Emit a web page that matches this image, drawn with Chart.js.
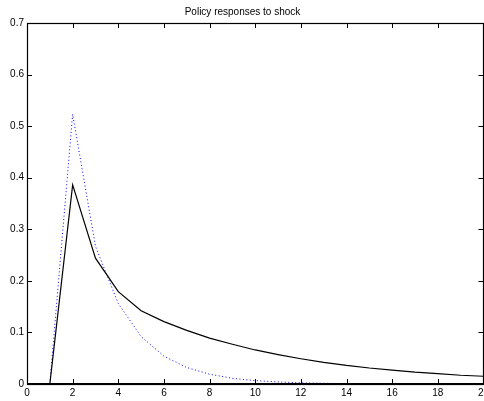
<!DOCTYPE html>
<html>
<head>
<meta charset="utf-8">
<script src="https://cdn.jsdelivr.net/npm/chart.js@4.4.1/dist/chart.umd.min.js"></script>
<style>
  html, body { margin: 0; padding: 0; background: #fff; overflow: hidden; }
  #wrap { width: 484px; height: 401px; overflow: hidden; }
</style>
</head>
<body>
<div id="wrap"><canvas id="chart" width="492" height="401"></canvas></div>
<script>
// periods after the shock
const periods = [1, 2, 3, 4, 5, 6, 7, 8, 9, 10, 11, 12, 13, 14, 15, 16, 17, 18, 19, 20];
// solid black response
const responseSolid = [0, 0.386, 0.244, 0.179, 0.142, 0.121, 0.104, 0.089, 0.077, 0.066,
                       0.057, 0.049, 0.042, 0.036, 0.031, 0.027, 0.023, 0.020, 0.017, 0.015];
// dotted blue response
const responseDotted = [0, 0.523, 0.267, 0.156, 0.092, 0.054, 0.032, 0.019, 0.011, 0.0065,
                        0.004, 0.0023, 0.0014, 0.0008, 0.0005, 0.0003, 0.0002, 0.0001, 0.0001, 0];
const xTicks = [0, 2, 4, 6, 8, 10, 12, 14, 16, 18, 20];
const yTicks = [0, 0.1, 0.2, 0.3, 0.4, 0.5, 0.6, 0.7];

const FONT = 'Liberation Sans, Arial, Helvetica, sans-serif';

// matlab style box with inward ticks on every side
const boxAxes = {
    id: 'boxAxes',
    afterDraw(chart) {
        const { ctx, chartArea: a, scales } = chart;
        const len = 5;
        ctx.save();
        ctx.strokeStyle = '#000';
        ctx.lineWidth = 1;
        xTicks.forEach(v => {
            const x = Math.round(scales.x.getPixelForValue(v)) + 0.5;
            ctx.beginPath();
            ctx.moveTo(x, a.bottom); ctx.lineTo(x, a.bottom - len);
            ctx.moveTo(x, a.top); ctx.lineTo(x, a.top + len);
            ctx.stroke();
        });
        yTicks.forEach(v => {
            const y = Math.round(scales.y.getPixelForValue(v)) + 0.5;
            ctx.beginPath();
            ctx.moveTo(a.left, y); ctx.lineTo(a.left + len, y);
            ctx.moveTo(a.right, y); ctx.lineTo(a.right - len, y);
            ctx.stroke();
        });
        ctx.lineWidth = 1.2;
        ctx.strokeRect(Math.round(a.left) + 0.5, Math.round(a.top) + 0.5,
                       Math.round(a.right - a.left), Math.round(a.bottom - a.top));
        ctx.lineWidth = 2;
        ctx.beginPath();
        ctx.moveTo(a.left, Math.round(a.bottom));
        ctx.lineTo(a.right, Math.round(a.bottom));
        ctx.stroke();
        ctx.restore();
    }
};

const ctx = document.getElementById('chart').getContext('2d');
new Chart(ctx, {
    type: 'line',
    data: {
        datasets: [{
            label: 'solid',
            data: periods.map((p, i) => ({ x: p, y: responseSolid[i] })),
            borderColor: '#000',
            borderWidth: 1.2,
            pointRadius: 0,
            tension: 0,
            fill: false
        }, {
            label: 'dotted',
            data: periods.map((p, i) => ({ x: p, y: responseDotted[i] })),
            borderColor: '#0000ff',
            borderWidth: 1,
            borderDash: [1, 2.5],
            pointRadius: 0,
            tension: 0,
            fill: false
        }]
    },
    options: {
        responsive: false,
        animation: false,
        layout: { padding: { left: 0, right: 7, top: 0, bottom: 0 } },
        plugins: {
            legend: { display: false },
            tooltip: { enabled: false },
            title: {
                display: true,
                text: 'Policy responses to shock',
                color: '#000',
                font: { family: FONT, size: 10, weight: 'normal' },
                padding: { top: 6, bottom: 5 }
            }
        },
        scales: {
            x: {
                type: 'linear',
                min: 0,
                max: 20,
                afterBuildTicks: s => { s.ticks = xTicks.map(v => ({ value: v })); },
                afterFit: s => { s.height = 17; },
                grid: { display: false, drawTicks: false },
                border: { display: false },
                ticks: {
                    color: '#000',
                    padding: 3,
                    maxRotation: 0,
                    autoSkip: false,
                    font: { family: FONT, size: 10 }
                }
            },
            y: {
                min: 0,
                max: 0.7,
                afterBuildTicks: s => { s.ticks = yTicks.map(v => ({ value: v })); },
                afterFit: s => { s.width = 27; },
                grid: { display: false, drawTicks: false },
                border: { display: false },
                ticks: {
                    color: '#000',
                    padding: 3,
                    autoSkip: false,
                    font: { family: FONT, size: 10 },
                    callback: v => (v === 0 ? '0' : v.toFixed(1))
                }
            }
        }
    },
    plugins: [boxAxes]
});
</script>
</body>
</html>
